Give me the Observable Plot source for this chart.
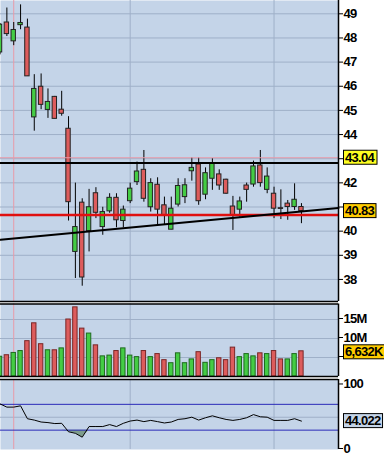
<!DOCTYPE html>
<html><head><meta charset="utf-8">
<script src="https://cdn.jsdelivr.net/npm/d3@7"></script>
<script src="https://cdn.jsdelivr.net/npm/@observablehq/plot@0.6"></script>
<style>
html,body{margin:0;padding:0;background:#fff;overflow:hidden}
#chart svg{display:block}
#chart svg text{letter-spacing:-0.7px}
</style></head><body><div id="chart"></div>
<script>
// ---- data ----
const opens  = [47.40,48.64,47.86,48.53,48.43,44.71,45.98,45.02,45.56,45.03,44.24,39.14,41.18,40.00,41.57,40.17,40.82,41.38,40.42,41.24,42.03,42.54,40.99,41.92,41.07,40.06,41.10,41.41,42.48,42.76,41.51,42.17,42.35,42.13,41.02,40.89,41.89,41.93,42.72,41.71,41.55,40.95,41.14,41.00,41.00];
const highs  = [48.60,49.24,48.64,49.37,48.78,46.48,46.51,45.89,45.58,45.79,44.74,41.99,41.34,41.73,41.80,40.99,41.55,41.55,41.04,41.99,42.86,43.34,42.17,42.21,41.41,41.41,42.17,42.17,43.04,43.04,42.62,43.00,42.54,42.15,41.44,41.41,41.99,42.90,43.34,42.62,41.82,41.71,41.27,41.96,41.14];
const lows   = [47.30,48.06,47.68,48.34,46.41,44.14,45.03,44.67,44.65,44.76,40.42,38.04,37.72,39.14,40.52,39.83,40.74,40.14,40.14,41.14,41.89,41.20,40.79,40.24,40.24,40.06,41.00,41.14,42.07,41.07,41.30,41.69,41.69,41.53,40.03,40.58,41.20,41.82,41.82,41.55,40.52,40.48,40.45,40.86,40.31];
const closes = [48.55,48.16,48.33,48.62,46.41,45.89,45.23,45.35,44.65,44.86,41.20,40.17,38.08,40.99,40.76,40.79,41.38,40.45,40.89,41.76,42.47,41.34,41.99,40.89,40.65,40.93,41.87,41.90,42.62,41.24,42.40,42.81,41.89,41.55,40.65,41.23,41.71,42.68,41.99,42.26,40.93,40.92,41.00,41.30,40.83];
const volumesM = [5.2,5.6,6.2,6.7,9.3,14.0,8.5,6.9,6.9,7.4,15.0,18.2,12.6,11.3,8.2,5.3,5.5,6.7,7.4,5.5,5.1,6.7,5.1,5.9,4.3,3.5,6.1,3.5,4.5,6.4,3.6,4.3,4.8,4.3,7.6,5.1,5.9,5.3,6.1,5.9,6.7,4.5,4.5,5.9,6.632];
const rsiValues = [70.7,65.7,65.7,67.7,47.7,45.6,42.6,41.7,40.2,40.6,27.5,25.1,19.1,35.6,35.6,35.6,38.6,35.6,40.6,44.1,45.6,43.2,45.1,43.2,41.1,42.6,46.6,47.7,50.1,45.6,49.2,52.2,49.2,46.6,45.1,46.6,49.2,54.1,50.7,50.1,45.1,45.1,45.1,47.7,44.022];

const priceTicks = [38,39,40,41,42,43,44,45,46,47,48,49];
const priceHiddenLabels = [41,43];
const volumeTicks = [5,10,15];
const volumeHiddenLabels = [5];
const rsiTicks = [0,100];
const rsiGrid = [50];
const rsiBands = [30,70];

const pinkLevel = [43.04];
const blackLevel = [42.82];
const redLevel = [40.67];
const trendIdx = [0.07, 49.41];
const trendPrice = [39.64, 40.96];
const eventIdx = [2];
const sepIdx = [19, 40];

const priceBadges = [{v: 43.04, label: "43.04", fill: "#ffff22"}, {v: 40.83, label: "40.83", fill: "#ffcc00"}];
const volumeBadges = [{v: 6.632, label: "6,632K", fill: "#ffcc00"}];
const rsiBadges = [{v: 44.022, label: "44.022", fill: "#c4d4e8"}];

// ---- styling ----
const BG = "#c4d4e8", GRID = "#9fb0c8", PINK = "#e89aa8";
const GREEN = "#44cc44", RED = "#dd5c5c";
const FONT = "'Liberation Sans',Arial,sans-serif";
const W = 384, MR = 46;
const xDomain = [0.07, 49.41];
const HW = 0.32;

const bars = opens.map((o, i) => ({
  i, open: o, high: highs[i], low: lows[i], close: closes[i],
  vol: volumesM[i], rsi: rsiValues[i],
  up: closes[i] >= o,
  volUp: i === 0 ? true : closes[i] >= closes[i - 1]
}));

const style = {background: "#fff", color: "#000", fontFamily: FONT, fontSize: "13px", fontWeight: "bold", overflow: "visible"};
const axisOpts = {anchor: "right", label: null, tickSize: 4, tickPadding: 1, fontSize: 13, fontWeight: "bold", fontFamily: FONT};
const vlines = () => [
  Plot.ruleX(sepIdx, {stroke: GRID, strokeWidth: 1}),
  Plot.ruleX(eventIdx, {stroke: PINK, strokeWidth: 1})
];

// ---- price panel ----
const price = Plot.plot({
  width: W, height: 302, marginLeft: 0, marginRight: MR, marginTop: 0, marginBottom: 1,
  style,
  x: {type: "linear", domain: xDomain, axis: null},
  y: {domain: [37.087, 49.551]},
  marks: [
    Plot.frame({fill: BG, stroke: null}),
    Plot.ruleY(priceTicks, {stroke: GRID, strokeWidth: 1}),
    ...vlines(),
    Plot.ruleX(bars, {x: "i", y1: "low", y2: "high", stroke: "#000", strokeWidth: 1}),
    Plot.rect(bars, {x1: d => d.i - HW, x2: d => d.i + HW, y1: "open", y2: "close",
      fill: d => d.up ? GREEN : RED, stroke: "#222", strokeWidth: 1}),
    Plot.ruleY(pinkLevel, {stroke: PINK, strokeWidth: 1}),
    Plot.ruleY(blackLevel, {stroke: "#000", strokeWidth: 2}),
    Plot.ruleY(redLevel, {stroke: "#e01010", strokeWidth: 2.5}),
    Plot.line(trendIdx.map((x, k) => ({x, y: trendPrice[k]})), {x: "x", y: "y", stroke: "#000", strokeWidth: 2}),
    Plot.ruleY([37.087], {stroke: "#000", strokeWidth: 1.5}),
    Plot.ruleX([xDomain[1]], {stroke: "#000", strokeWidth: 1.5}),
    Plot.axisY({...axisOpts, ticks: priceTicks, tickFormat: d => priceHiddenLabels.includes(d) ? "" : String(d)})
  ]
});

// ---- volume panel ----
const volume = Plot.plot({
  width: W, height: 76, marginLeft: 0, marginRight: MR, marginTop: 1.5, marginBottom: 2,
  style,
  x: {type: "linear", domain: xDomain, axis: null},
  y: {domain: [0, 19.08]},
  marks: [
    Plot.frame({fill: BG, stroke: null}),
    Plot.ruleY(volumeTicks, {stroke: GRID, strokeWidth: 1}),
    ...vlines(),
    Plot.rect(bars, {x1: d => d.i - HW, x2: d => d.i + HW, y1: 0, y2: "vol",
      fill: d => d.volUp ? GREEN : RED, stroke: d => d.volUp ? "#1f6a1f" : "#7a2626", strokeWidth: 1}),
    Plot.ruleY([19.08], {stroke: "#000", strokeWidth: 1.5}),
    Plot.ruleY([0], {stroke: "#000", strokeWidth: 1.5}),
    Plot.ruleX([xDomain[1]], {stroke: "#000", strokeWidth: 1.5}),
    Plot.axisY({...axisOpts, ticks: volumeTicks, tickFormat: d => volumeHiddenLabels.includes(d) ? "" : d + "M", dy: -1})
  ]
});

// ---- RSI panel ----
const rsi = Plot.plot({
  width: W, height: 78, marginLeft: 0, marginRight: MR, marginTop: 1, marginBottom: 7,
  style,
  x: {type: "linear", domain: xDomain, axis: null},
  y: {domain: [0, 108.5]},
  marks: [
    Plot.frame({fill: BG, stroke: null}),
    Plot.ruleY(rsiGrid, {stroke: GRID, strokeWidth: 1}),
    ...vlines(),
    Plot.areaY(bars, {x: "i", y1: 30, y2: d => Math.min(d.rsi, 30), fill: "#7d9c8c"}),
    Plot.ruleY(rsiBands, {stroke: "#2a2ab8", strokeWidth: 1}),
    Plot.line(bars, {x: "i", y: "rsi", stroke: "#000", strokeWidth: 1}),
    Plot.ruleY([108.5], {stroke: "#000", strokeWidth: 1.5}),
    Plot.ruleX([xDomain[1]], {stroke: "#000", strokeWidth: 1.5}),
    Plot.axisY({...axisOpts, ticks: rsiTicks, dy: -1})
  ]
});

const root = document.getElementById("chart");
root.append(price, volume, rsi);

function addBadges(plot, list, shift = 0) {
  const svg = d3.select(plot);
  const ys = plot.scale("y"), xs = plot.scale("x");
  const x0 = xs.range[1] + 5.5;
  for (const b of list) {
    const y = ys.apply(b.v) + shift;
    const g = svg.append("g").attr("text-anchor", "start");
    const rect = g.append("rect");
    const t = g.append("text").attr("x", x0 + 1.5).attr("y", y).attr("dy", "0.36em")
      .attr("text-anchor", "start")
      .attr("font-family", FONT).attr("font-size", 13).attr("font-weight", "bold").attr("fill", "#000").text(b.label);
    const bb = t.node().getBBox();
    rect.attr("x", x0).attr("y", y - 7).attr("width", bb.width + 3).attr("height", 14)
      .attr("fill", b.fill).attr("stroke", "#000").attr("stroke-width", 1);
  }
}
addBadges(price, priceBadges);
addBadges(volume, volumeBadges, 1);
addBadges(rsi, rsiBadges);
</script></body></html>
